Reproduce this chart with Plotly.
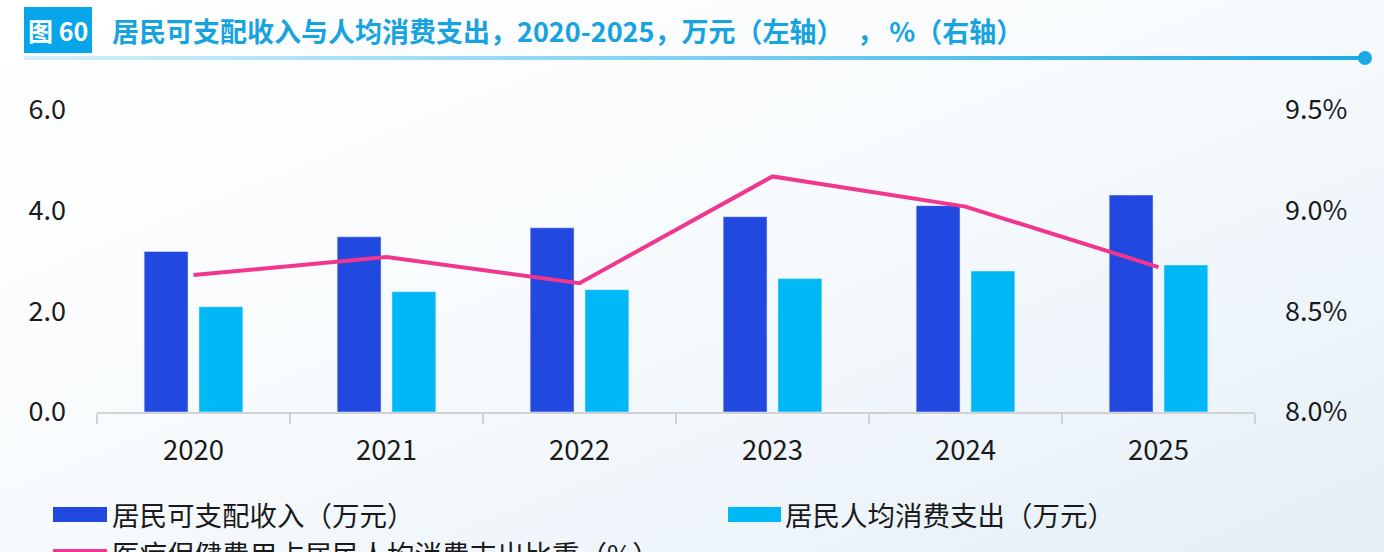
import base64
import plotly.graph_objects as go

# ---------------- data ----------------
years = ["2020", "2021", "2022", "2023", "2024", "2025"]
income = [3.19, 3.48, 3.66, 3.88, 4.10, 4.31]          # 居民可支配收入（万元）
consumption = [2.09, 2.39, 2.43, 2.65, 2.80, 2.92]     # 居民人均消费支出（万元）
health_share = [8.68, 8.77, 8.64, 9.17, 9.02, 8.72]    # 医疗保健费用占比（%）

name_income = "居民可支配收入（万元）"
name_cons = "居民人均消费支出（万元）"
name_share = "医疗保健费用占居民人均消费支出比重（%）"
title_tag = "图 60"
title_text = "居民可支配收入与人均消费支出，2020-2025，万元（左轴）\u2002，\u2009%（右轴）"

left_ticks = [0, 2, 4, 6]
left_ticktext = ["0.0", "2.0", "4.0", "6.0"]
right_ticks = [8.0, 8.5, 9.0, 9.5]
right_ticktext = ["8.0%", "8.5%", "9.0%", "9.5%"]

# ---------------- layout geometry ----------------
W, H = 1384, 552
L, R, T, B = 97, 1255, 110, 412
PW, PH = R - L, B - T


def px(x):
    return (x - L) / PW


def py(y):
    return (B - y) / PH


FONT = "Noto Sans CJK SC"
C_DARK = "#2148df"
C_LIGHT = "#00b8f5"
C_PINK = "#f0368f"
C_TITLE = "#16a3e0"
LEG_SIZE = 27.5

fig = go.Figure()
fig.add_trace(go.Bar(x=years, y=income, name=name_income, marker_color=C_DARK,
                     showlegend=False))
fig.add_trace(go.Bar(x=years, y=consumption, name=name_cons, marker_color=C_LIGHT,
                     showlegend=False))
fig.add_trace(go.Scatter(x=years, y=health_share, name=name_share, yaxis="y2",
                         mode="lines", line=dict(color=C_PINK, width=4),
                         showlegend=False))

# background (gradient + title rule)
svg = f"""<svg xmlns='http://www.w3.org/2000/svg' width='{W}' height='{H}' viewBox='0 0 {W} {H}' preserveAspectRatio='none'>
<defs>
<linearGradient id='bg' x1='0' y1='0' x2='1' y2='1'>
<stop offset='0' stop-color='#ffffff'/><stop offset='0.45' stop-color='#f8fbfd'/><stop offset='1' stop-color='#e5eff8'/>
</linearGradient>
<linearGradient id='ln' x1='0' y1='0' x2='1' y2='0'>
<stop offset='0' stop-color='#d3effa'/><stop offset='0.5' stop-color='#7fd0f1'/><stop offset='1' stop-color='#19aae6'/>
</linearGradient>
</defs>
<rect width='{W}' height='{H}' fill='url(#bg)'/>
<rect x='24' y='56' width='1341' height='4' fill='url(#ln)'/>
<circle cx='1365' cy='58' r='7' fill='#19aae6'/>
</svg>"""
src = "data:image/svg+xml;base64," + base64.b64encode(svg.encode()).decode()

shapes = [
    dict(type="rect", xref="paper", yref="paper", x0=px(24), x1=px(92), y0=py(53), y1=py(7),
         fillcolor="#07a6ea", line=dict(width=0), layer="above"),
    dict(type="rect", xref="paper", yref="paper", x0=px(53), x1=px(107), y0=py(522), y1=py(507),
         fillcolor=C_DARK, line=dict(width=0)),
    dict(type="rect", xref="paper", yref="paper", x0=px(728), x1=px(781), y0=py(522), y1=py(507),
         fillcolor=C_LIGHT, line=dict(width=0)),
    dict(type="line", xref="paper", yref="paper", x0=px(53), x1=px(107), y0=py(552), y1=py(552),
         line=dict(color=C_PINK, width=6)),
]

annotations = [
    dict(text=f"<b>{title_tag}</b>", xref="paper", yref="paper", x=px(58), y=py(30),
         xanchor="center", yanchor="middle", showarrow=False,
         font=dict(family=FONT, size=25, color="white")),
    dict(text=f"<b>{title_text}</b>", xref="paper", yref="paper", x=px(110), y=py(30),
         xanchor="left", yanchor="middle", showarrow=False,
         font=dict(family=FONT, size=27, color=C_TITLE)),
    dict(text=name_income, xref="paper", yref="paper", x=px(110), y=py(514),
         xanchor="left", yanchor="middle", showarrow=False,
         font=dict(family=FONT, size=LEG_SIZE, color="#1a1a1a")),
    dict(text=name_cons, xref="paper", yref="paper", x=px(783), y=py(514),
         xanchor="left", yanchor="middle", showarrow=False,
         font=dict(family=FONT, size=LEG_SIZE, color="#1a1a1a")),
    dict(text=name_share, xref="paper", yref="paper", x=px(110), y=py(553),
         xanchor="left", yanchor="middle", showarrow=False,
         font=dict(family=FONT, size=LEG_SIZE, color="#1a1a1a")),
]

fig.update_layout(
    width=W, height=H,
    margin=dict(l=L, r=W - R, t=T, b=H - B, pad=0),
    paper_bgcolor="white", plot_bgcolor="rgba(0,0,0,0)",
    barmode="group", bargap=0.432, bargroupgap=0.2,
    font=dict(family=FONT, size=27, color="#1a1a1a"),
    xaxis=dict(showgrid=False, showline=True, linecolor="#d2d2d2", linewidth=1.5,
               ticks="outside", tickson="boundaries", ticklen=10, tickcolor="#d2d2d2",
               tickwidth=1.5, ticklabelstandoff=13, tickfont=dict(size=27.5)),
    yaxis=dict(range=[0, 6], tickvals=left_ticks, ticktext=left_ticktext, showgrid=False,
               zeroline=False, showline=False, ticks="", ticklabelstandoff=30,
               tickfont=dict(size=27)),
    yaxis2=dict(range=[8.0, 9.5], tickvals=right_ticks, ticktext=right_ticktext,
                overlaying="y", side="right", showgrid=False, zeroline=False,
                showline=False, ticks="", ticklabelstandoff=29, tickfont=dict(size=27)),
    images=[dict(source=src, xref="paper", yref="paper", x=px(0), y=py(0),
                 sizex=W / PW, sizey=H / PH, xanchor="left", yanchor="top",
                 sizing="stretch", layer="below")],
    shapes=shapes,
    annotations=annotations,
    showlegend=False,
)

fig.write_html("out.html")
